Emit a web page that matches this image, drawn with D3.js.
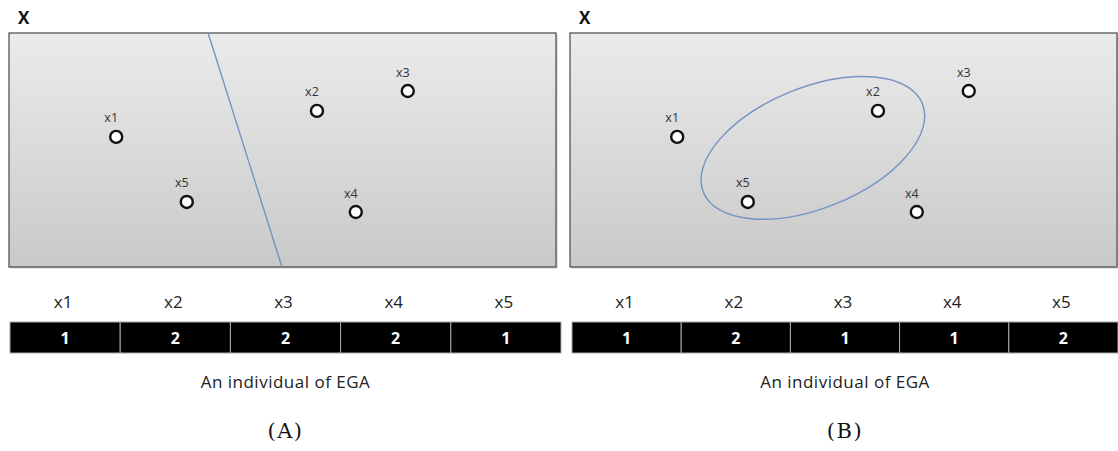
<!DOCTYPE html>
<html><head><meta charset="utf-8">
<script src="https://cdn.jsdelivr.net/npm/d3@7"></script>
<style>html,body{margin:0;padding:0;background:#fff;}svg{display:block;}</style>
</head><body>
<svg id="c" width="1118" height="451"></svg>
<script>
// ---- data ----
const pointNames = ["x1","x2","x3","x4","x5"];
const pointX = [19.6, 56.3, 72.9, 63.4, 32.5];
const pointY = [55.6, 66.7, 75.2, 23.5, 27.8];
const genesA = [1,2,2,2,1];
const genesB = [1,2,1,1,2];
const panelLetters = ["(A)","(B)"];
const lineA = [[36.4,100],[49.9,0]];
const ellipseB = {cx:44.4, cy:50.9, rx:21.6, ry:25.8, angle:-22};
const caption = "An individual of EGA";
const spaceLabel = "X";

const svg = d3.select("#c");
const defs = svg.append("defs");
const grad = defs.append("linearGradient").attr("id","bg").attr("x1",0).attr("y1",0).attr("x2",0).attr("y2",1);
grad.append("stop").attr("offset","0%").attr("stop-color","#ebebeb");
grad.append("stop").attr("offset","100%").attr("stop-color","#c9c9c9");

const panels = [
  {x0:9, genes:genesA, letter:panelLetters[0], type:"line", barX0:10, barX1:561},
  {x0:570, genes:genesB, letter:panelLetters[1], type:"ellipse", barX0:572, barX1:1118}
];
const boxW = 547, boxTop = 33, boxBot = 267;
const sans = "Open Sans, sans-serif";

panels.forEach(p => {
  const g = svg.append("g");
  const xs = d3.scaleLinear().domain([0,100]).range([p.x0, p.x0+boxW]);
  const ys = d3.scaleLinear().domain([0,100]).range([boxBot, boxTop]);
  g.append("text").attr("x", p.x0+9).attr("y", 24).text(spaceLabel)
    .attr("font-family",sans).attr("font-weight","bold").attr("font-size",17).attr("fill","#111");
  g.append("rect").attr("x", p.x0+1.5).attr("y", boxTop+1.5).attr("width", boxW).attr("height", boxBot-boxTop)
    .attr("fill","#999").attr("opacity",0.5);
  g.append("rect").attr("x", p.x0).attr("y", boxTop).attr("width", boxW).attr("height", boxBot-boxTop)
    .attr("fill","url(#bg)").attr("stroke","#555").attr("stroke-width",1.3);
  const blue = "#7493c4";
  if (p.type==="line") {
    g.append("line").attr("x1", xs(lineA[0][0])).attr("y1", ys(lineA[0][1]))
      .attr("x2", xs(lineA[1][0])).attr("y2", ys(lineA[1][1]))
      .attr("stroke", blue).attr("stroke-width",1.4);
  } else {
    const e = ellipseB;
    const rxp = xs(e.rx) - xs(0), ryp = ys(0) - ys(e.ry);
    g.append("ellipse").attr("cx",0).attr("cy",0).attr("rx", rxp).attr("ry", ryp)
      .attr("transform", `translate(${xs(e.cx)},${ys(e.cy)}) rotate(${e.angle})`)
      .attr("fill","none").attr("stroke", blue).attr("stroke-width",1.4);
  }
  pointNames.forEach((n,i) => {
    const cx = xs(pointX[i]), cy = ys(pointY[i]);
    g.append("text").attr("x", cx-5).attr("y", cy-14.5).attr("text-anchor","middle").text(n)
      .attr("font-family",sans).attr("font-size",12.5).attr("fill","#333");
    g.append("circle").attr("cx",cx).attr("cy",cy).attr("r",6)
      .attr("fill","#fff").attr("stroke","#111").attr("stroke-width",2.4);
  });
  // chromosome bar
  const band = d3.scaleBand().domain(pointNames).range([p.barX0, p.barX1]);
  g.selectAll("rect.cell").data(p.genes).enter().append("rect")
    .attr("x",(d,i)=>band(pointNames[i])).attr("y",322).attr("width",band.bandwidth()).attr("height",31)
    .attr("fill","#000").attr("stroke","#aaa").attr("stroke-width",1);
  g.selectAll("text.gv").data(p.genes).enter().append("text")
    .attr("x",(d,i)=>band(pointNames[i])+band.bandwidth()/2).attr("y",344).attr("text-anchor","middle")
    .text(d=>d).attr("font-family",sans).attr("font-weight","bold").attr("font-size",16).attr("fill","#fff");
  g.selectAll("text.gl").data(pointNames).enter().append("text")
    .attr("x",d=>band(d)+band.bandwidth()/2-2).attr("y",308).attr("text-anchor","middle")
    .text(d=>d).attr("font-family",sans).attr("font-size",17).attr("fill","#222");
  const mid = (p.barX0+p.barX1)/2;
  g.append("text").attr("x", mid).attr("y", 388).attr("text-anchor","middle").text(caption)
    .attr("font-family",sans).attr("font-size",17).attr("letter-spacing",0.5).attr("fill","#222");
  g.append("text").attr("x", mid).attr("y", 438).attr("text-anchor","middle").text(p.letter)
    .attr("font-family","DejaVu Serif, serif").attr("font-size",21).attr("letter-spacing",1.5).attr("fill","#111");
});
</script>
</body></html>
